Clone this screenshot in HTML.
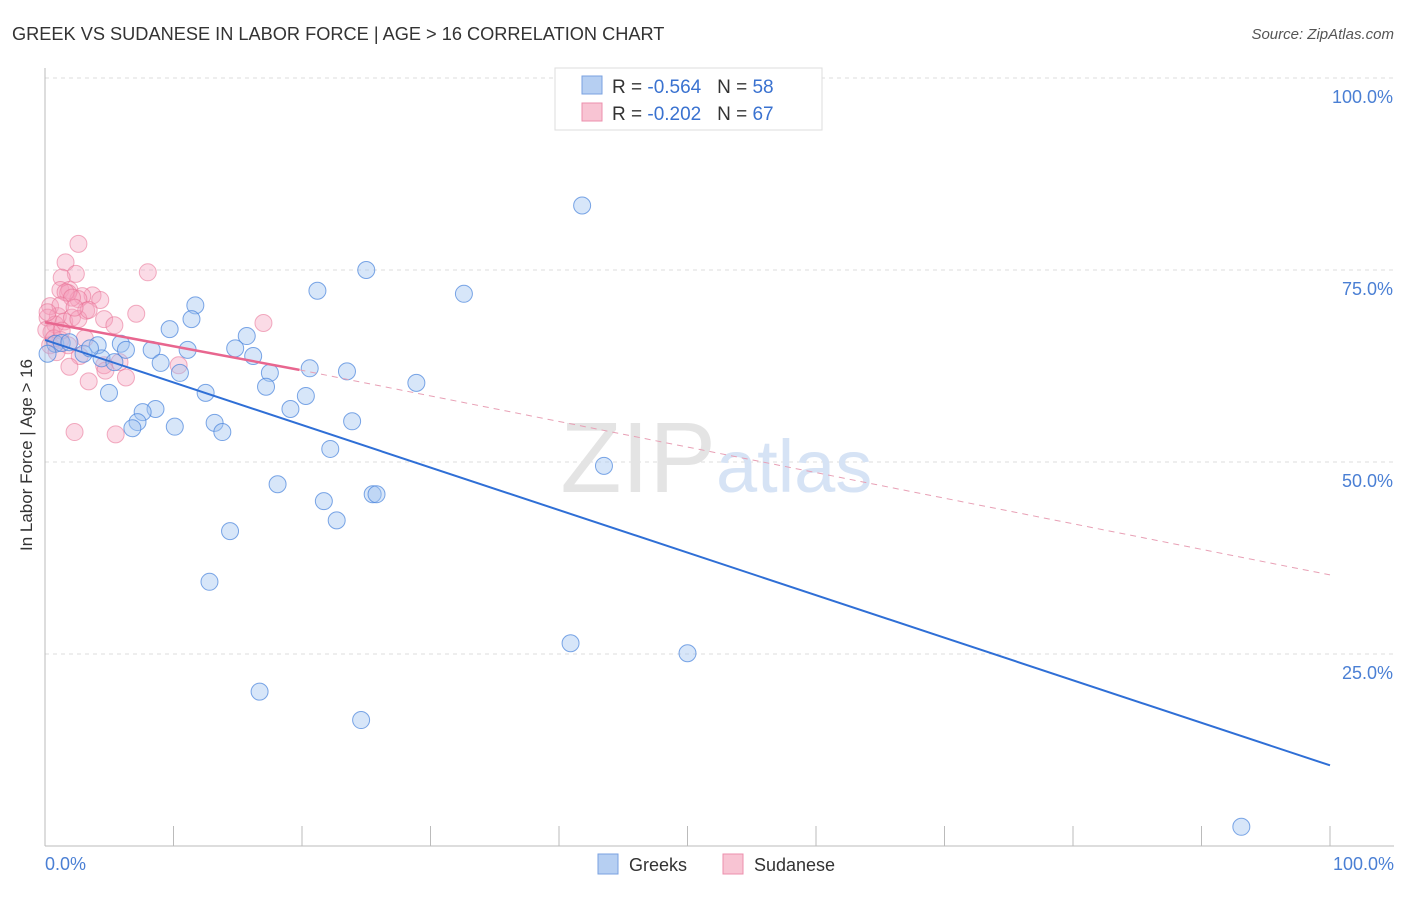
<!DOCTYPE html>
<html><head><meta charset="utf-8"><style>
body{margin:0;background:#fff;font-family:"Liberation Sans",sans-serif}
svg text{font-family:"Liberation Sans",sans-serif}
</style></head><body>
<svg width="1406" height="892">
<text x="12" y="40" font-size="18.2" fill="#333">GREEK VS SUDANESE IN LABOR FORCE | AGE &gt; 16 CORRELATION CHART</text>
<text x="1394" y="39" font-size="15" fill="#555" text-anchor="end" font-style="italic">Source: ZipAtlas.com</text>
<g id="grid"></g>
<line x1="45" y1="68" x2="45" y2="846" stroke="#bbb"/>
<line x1="45" y1="846" x2="1394" y2="846" stroke="#bbb"/>
<text x="32" y="455" font-size="17" fill="#333" text-anchor="middle" transform="rotate(-90 32 455)">In Labor Force | Age &gt; 16</text>
<text x="45" y="870" font-size="18" fill="#4a7fd4">0.0%</text>
<text x="1394" y="870" font-size="18" fill="#4a7fd4" text-anchor="end">100.0%</text>
<text x="716" y="492" font-size="100" fill="#e4e4e4" text-anchor="end" font-family="Liberation Serif">ZIP</text>
<text x="716" y="492" font-size="74" fill="#d6e3f5">atlas</text>
<g id="pts"></g>
<g id="lines"></g>
<g>
<rect x="555" y="68" width="267" height="62" fill="#fff" stroke="#ddd"/>
<rect x="582" y="76" width="20" height="18" fill="#b6cff2" stroke="#7aa2e0"/>
<text x="612" y="93" font-size="19" fill="#333">R = <tspan fill="#3a72d0">-0.564</tspan>&#160;&#160;&#160;N = <tspan fill="#3a72d0">58</tspan></text>
<rect x="582" y="103" width="20" height="18" fill="#f8c4d3" stroke="#ec8fac"/>
<text x="612" y="120" font-size="19" fill="#333">R = <tspan fill="#3a72d0">-0.202</tspan>&#160;&#160;&#160;N = <tspan fill="#3a72d0">67</tspan></text>
</g>
<g>
<rect x="598" y="854" width="20" height="20" fill="#b6cff2" stroke="#7aa2e0"/>
<text x="629" y="871" font-size="18" fill="#333">Greeks</text>
<rect x="723" y="854" width="20" height="20" fill="#f8c4d3" stroke="#ec8fac"/>
<text x="754" y="871" font-size="18" fill="#333">Sudanese</text>
</g>
</svg>
<script>
const yTicks=[25,50,75,100];
const yTickLabels=["25.0%","50.0%","75.0%","100.0%"];
const greekX=[41.8,25,21.2,32.6,11.7,11.4,9.7,15.7,0.8,4.1,5.9,8.3,6.3,11.1,14.8,16.2,3,4.4,9,10.5,17.5,20.6,23.5,28.9,17.2,12.5,4.98,20.3,19.1,8.6,7.6,7.2,6.8,10.1,13.2,23.9,13.8,22.2,43.5,18.1,21.7,25.5,25.8,22.7,14.4,12.8,40.9,50,16.7,24.6,93.1,1.3,1.9,3.5,5.4,0.2];
const greekY=[83.4,75,72.3,71.9,70.4,68.6,67.3,66.4,65.4,65.2,65.4,64.6,64.6,64.6,64.8,63.8,64.1,63.5,62.9,61.6,61.6,62.2,61.8,60.3,59.8,59,59,58.6,56.9,56.9,56.5,55.2,54.4,54.6,55.1,55.3,53.9,51.7,49.5,47.1,44.9,45.8,45.8,42.4,41,34.4,26.4,25.1,20.1,16.4,2.5,65.5,65.6,64.8,63,64.1];
const sudX=[2.6,8,1.6,2.4,1.3,17,1.2,1.9,3.7,2.9,1.8,2.6,0.4,1,3.2,4.6,7.1,5.4,0.2,0.8,1.5,2.1,0.5,1.2,1.8,3.1,0.4,0.9,2.7,5.8,4.6,10.4,4.7,6.3,3.4,1.9,2.3,5.5,1.6,2.1,4.3,1.2,0.2,0.1,0.7,1.3,2.6,3.4,2.3];
const sudY=[78.4,74.7,76,74.5,74,68.1,72.4,72.4,71.7,71.6,72,71.2,70.3,69,69.7,68.6,69.3,67.8,68.8,67.9,68.3,68.8,66.9,65.9,65.2,66.1,65.2,64.3,63.8,63,62.6,62.6,61.9,61,60.5,62.4,53.9,53.6,72.1,71.4,71.1,70.4,69.5,67.2,66.1,67.1,68.6,69.8,70.1];
const greekLine=[65.9,10.5];
const sudLine=[68.2,62.0,35.3];
const sudSolidEnd=19.8;
const X=v=>45+v*12.85, Y=v=>846-v*7.68;
const ns="http://www.w3.org/2000/svg";
function mk(t,a,p){const e=document.createElementNS(ns,t);for(const k in a)e.setAttribute(k,a[k]);p.appendChild(e);return e;}
const grid=document.getElementById('grid');
yTicks.forEach((t,i)=>{
 const l=mk('line',{x1:45,x2:1394,y1:Y(t),y2:Y(t),stroke:'#ddd','stroke-dasharray':'4,4'},grid);
 
 
 const tx=mk('text',{x:1393,y:Y(t)+25,'font-size':18,fill:'#4a7fd4','text-anchor':'end'},grid);
 tx.textContent=yTickLabels[i];
 
 
});
for(let i=1;i<=10;i++){const l=mk('line',{x1:X(i*10),x2:X(i*10),y1:826,y2:846,stroke:'#bbb'},grid);
 
 }
const pts=document.getElementById('pts');
sudX.forEach((x,i)=>{const c=mk('circle',{cx:X(x),cy:Y(sudY[i]),r:8.5,fill:'rgba(245,160,188,0.38)',stroke:'rgba(232,110,145,0.55)','stroke-width':1},pts);
 
 });
greekX.forEach((x,i)=>{const c=mk('circle',{cx:X(x),cy:Y(greekY[i]),r:8.5,fill:'rgba(160,196,240,0.42)',stroke:'rgba(70,130,220,0.7)','stroke-width':1},pts);
 
 });
const lines=document.getElementById('lines');
let l=mk('line',{x1:X(0),y1:Y(greekLine[0]),x2:X(100),y2:Y(greekLine[1]),stroke:'#2f6fd6','stroke-width':2},lines);


l=mk('line',{x1:X(0),y1:Y(sudLine[0]),x2:X(sudSolidEnd),y2:Y(sudLine[1]),stroke:'#e8668f','stroke-width':2.5},lines);


l=mk('line',{x1:X(sudSolidEnd),y1:Y(sudLine[1]),x2:X(100),y2:Y(sudLine[2]),stroke:'#e8a0b5','stroke-width':1,'stroke-dasharray':'6,5'},lines);


</script>
</body></html>
